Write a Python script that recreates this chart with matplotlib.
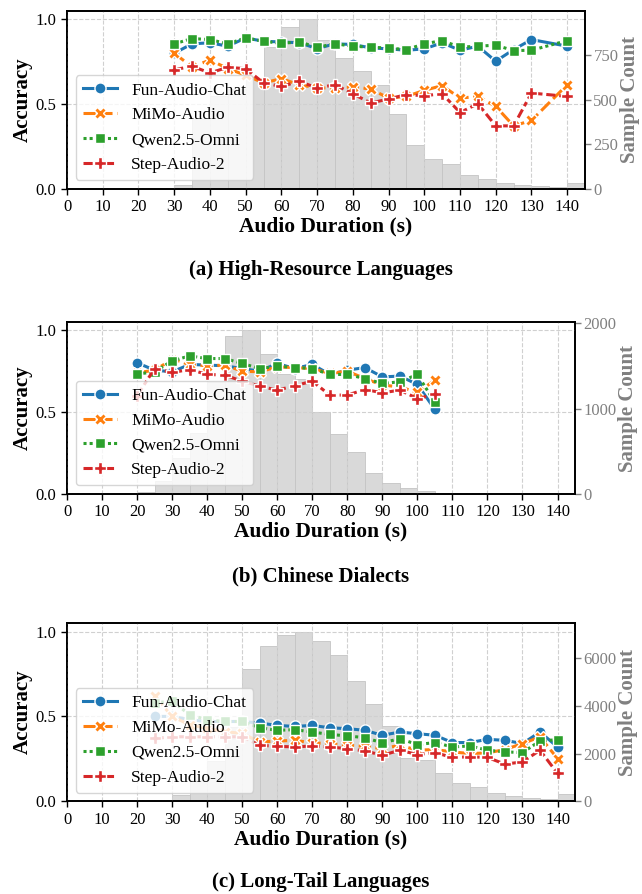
import numpy as np
import matplotlib
matplotlib.use('Agg')
import matplotlib.pyplot as plt
from matplotlib.ticker import MultipleLocator

plt.rcParams['font.family'] = ['Liberation Serif', 'DejaVu Serif']

models = ['Fun-Audio-Chat', 'MiMo-Audio', 'Qwen2.5-Omni', 'Step-Audio-2']

# bin left edges for the histograms (5 s bins)
bin_edges = list(range(0, 145, 5))

# ---- (a) High-Resource Languages ----
x_a = [30, 35, 40, 45, 50, 55, 60, 65, 70, 75, 80, 85, 90, 95, 100, 105, 110, 115, 120, 125, 130, 140]
fun_a = [0.80, 0.856, 0.862, 0.842, 0.891, 0.871, 0.867, 0.862, 0.828, 0.856, 0.852, 0.832, 0.826, 0.818,
         0.826, 0.862, 0.818, 0.842, 0.753, 0.822, 0.881, 0.842]
mimo_a = [0.80, 0.72, 0.76, 0.71, 0.67, 0.625, 0.65, 0.614, 0.595, 0.595, 0.601, 0.589, 0.535, 0.545,
          0.581, 0.609, 0.535, 0.545, 0.486, 0.371, 0.403, 0.614]
qwen_a = [0.856, 0.887, 0.881, 0.856, 0.891, 0.871, 0.859, 0.867, 0.836, 0.856, 0.842, 0.836, 0.831, 0.822,
          0.856, 0.875, 0.836, 0.842, 0.848, 0.816, 0.818, 0.875]
step_a = [0.703, 0.723, 0.684, 0.717, 0.709, 0.625, 0.604, 0.634, 0.595, 0.614, 0.561, 0.506, 0.530, 0.556,
          0.549, 0.561, 0.45, 0.502, 0.371, 0.371, 0.565, 0.545]
count_a = [0, 0, 0, 0, 0, 0, 22, 390, 520, 560, 620, 796, 907, 950, 833, 731, 663, 583, 417, 246,
           167, 139, 74, 56, 33, 19, 15, 9, 33]

# ---- (b) Chinese Dialects ----
x_b = [20, 25, 30, 35, 40, 45, 50, 55, 60, 65, 70, 75, 80, 85, 90, 95, 100, 105]
fun_b = [0.801, 0.756, 0.746, 0.791, 0.787, 0.783, 0.766, 0.75, 0.797, 0.766, 0.791, 0.73, 0.756, 0.772,
         0.715, 0.72, 0.669, 0.516]
mimo_b = [0.74, 0.756, 0.821, 0.791, 0.783, 0.787, 0.75, 0.746, 0.776, 0.772, 0.766, 0.736, 0.75, 0.705,
          0.665, 0.654, 0.62, 0.695]
qwen_b = [0.732, 0.746, 0.813, 0.843, 0.827, 0.827, 0.797, 0.766, 0.78, 0.772, 0.766, 0.73, 0.73, 0.705,
          0.675, 0.685, 0.73, 0.559]
step_b = [0.60, 0.766, 0.742, 0.76, 0.73, 0.726, 0.689, 0.659, 0.634, 0.661, 0.689, 0.604, 0.604, 0.638,
          0.618, 0.634, 0.583, 0.608]
count_b = [0, 0, 0, 0, 20, 150, 420, 713, 1313, 1852, 1918, 1645, 1400, 1350, 963, 702, 495, 242, 130,
           65, 30, 10, 0, 0, 0, 0, 0, 0, 0]

# ---- (c) Long-Tail Languages ----
x_c = [25, 30, 35, 40, 45, 50, 55, 60, 65, 70, 75, 80, 85, 90, 95, 100, 105, 110, 115, 120, 125, 130, 135, 140]
fun_c = [0.50, 0.50, 0.48, 0.47, 0.47, 0.47, 0.461, 0.447, 0.441, 0.447, 0.433, 0.428, 0.418, 0.389,
         0.408, 0.398, 0.389, 0.346, 0.346, 0.365, 0.359, 0.34, 0.408, 0.32]
mimo_c = [0.62, 0.50, 0.45, 0.43, 0.41, 0.40, 0.349, 0.355, 0.359, 0.344, 0.34, 0.33, 0.324, 0.31,
          0.33, 0.301, 0.305, 0.291, 0.281, 0.285, 0.305, 0.34, 0.379, 0.252]
qwen_c = [0.58, 0.59, 0.51, 0.48, 0.47, 0.47, 0.433, 0.418, 0.422, 0.408, 0.394, 0.385, 0.375, 0.344,
          0.369, 0.334, 0.346, 0.32, 0.326, 0.301, 0.291, 0.287, 0.355, 0.363]
step_c = [0.37, 0.38, 0.38, 0.38, 0.38, 0.38, 0.33, 0.324, 0.32, 0.326, 0.32, 0.31, 0.297, 0.271,
          0.301, 0.275, 0.287, 0.258, 0.262, 0.258, 0.219, 0.232, 0.301, 0.164]
count_c = [0, 0, 0, 0, 0, 30, 250, 900, 1700, 3100, 5563, 6499, 7002, 7128, 6709, 6122, 5031, 4067,
           3145, 1800, 1750, 1188, 782, 600, 350, 224, 140, 84, 322]

colors = ['#1f77b4', '#ff7f0e', '#2ca02c', '#d62728']
markers = ['o', 'X', (4, 0, 45), 'P']
dashes = [None, (4, 1.5), (1, 1), (3, 1.25, 1.5, 1.25)]

fig = plt.figure(figsize=(6.42, 8.94), dpi=100)


def draw_panel(rect, x, series, counts, count_step, caption, cap_y):
    ax = fig.add_axes(rect)
    ax2 = ax.twinx()
    ax2.bar(bin_edges, counts, width=5, align='edge', color='#d9d9d9',
            edgecolor='#c4c4c4', linewidth=0.6)
    ax2.set_ylim(0, max(counts) * 1.05)
    ax2.yaxis.set_major_locator(MultipleLocator(count_step))
    ax2.set_ylabel('Sample Count', fontsize=15, fontweight='bold', color='gray', labelpad=1)
    ax2.tick_params(axis='y', colors='gray', labelsize=12, length=4, width=1, pad=2)

    ax.set_zorder(ax2.get_zorder() + 1)
    ax.patch.set_visible(False)
    for i, (name, y) in enumerate(zip(models, series)):
        ms = 9.5 if i == 2 else 8
        line, = ax.plot(x, y, color=colors[i], marker=markers[i], markersize=ms,
                        markeredgecolor='white', markeredgewidth=1.0, linewidth=2.2, label=name)
        if dashes[i] is not None:
            line.set_dashes(dashes[i])
    ax.set_xlim(0, 145)
    ax.set_ylim(0, 1.05)
    ax.set_xticks(range(0, 145, 10))
    ax.set_yticks([0.0, 0.5, 1.0])
    ax.set_yticklabels(['0.0', '0.5', '1.0'])
    ax.grid(True, linestyle='--', color='#d0d0d0', linewidth=0.8)
    ax.tick_params(labelsize=12, length=4, width=1)
    ax.set_xlabel('Audio Duration (s)', fontsize=15.5, fontweight='bold', labelpad=1)
    ax.set_ylabel('Accuracy', fontsize=15, fontweight='bold', labelpad=2)
    for sp in list(ax.spines.values()) + list(ax2.spines.values()):
        sp.set_linewidth(1.25)
    ax.legend(loc='lower left', fontsize=12.5, handlelength=2.0)
    fig.text(0.5, cap_y, caption, ha='center', va='center', fontsize=15, fontweight='bold')


draw_panel([0.1044, 0.789, 0.8069, 0.1987], x_a, [fun_a, mimo_a, qwen_a, step_a], count_a, 250,
           '(a) High-Resource Languages', 0.698)
draw_panel([0.1044, 0.4474, 0.7913, 0.1924], x_b, [fun_b, mimo_b, qwen_b, step_b], count_b, 1000,
           '(b) Chinese Dialects', 0.355)
draw_panel([0.1044, 0.1037, 0.7913, 0.1994], x_c, [fun_c, mimo_c, qwen_c, step_c], count_c, 2000,
           '(c) Long-Tail Languages', 0.0134)

fig.savefig('out.png', dpi=100)
